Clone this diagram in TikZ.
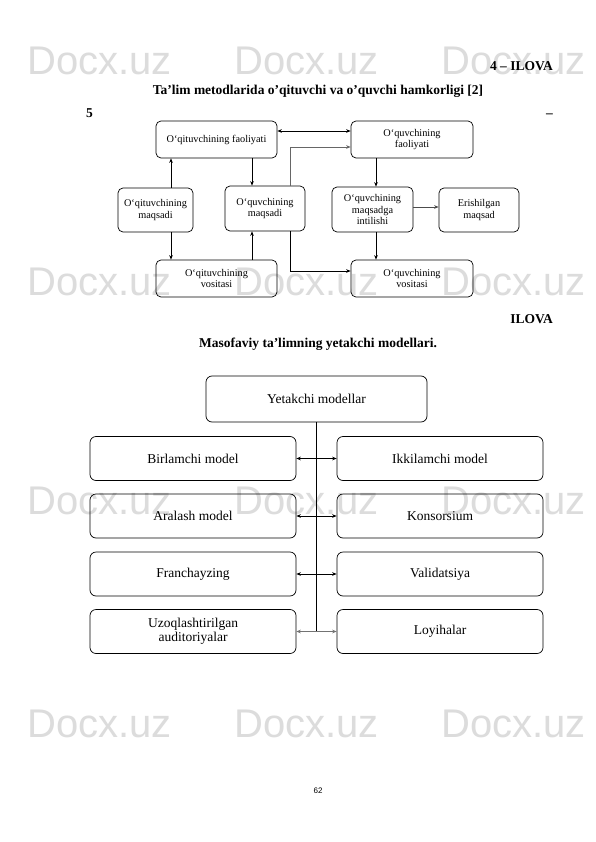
\documentclass[tikz,border=0pt]{standalone}
\usepackage{fontspec}
\setmainfont{Liberation Serif}
\newfontfamily\wmfont{Liberation Sans}
\usetikzlibrary{arrows.meta}
\definecolor{wmgray}{HTML}{DCDCDC}
\tikzset{
  tb/.style={draw, rounded corners=5pt, line width=0.7pt, align=center, inner sep=0pt,
    font=\fontsize{10.3}{11.8}\selectfont},
  bb/.style={draw, rounded corners=6pt, line width=0.7pt, align=center, inner sep=0pt,
    minimum width=206pt, minimum height=44pt, font=\fontsize{13.5}{14.5}\selectfont},
  arr/.style={-{Stealth[length=4.5pt,width=3.6pt]}, line width=0.7pt},
  darr/.style={{Stealth[length=4.5pt,width=3.6pt]}-{Stealth[length=4.5pt,width=3.6pt]}, line width=0.7pt},
  head/.style={inner sep=0pt, font=\fontsize{13.5}{15}\selectfont\bfseries},
  wm/.style={inner sep=0pt, anchor=base west, text=wmgray, font=\wmfont\fontsize{40}{44}\selectfont}
}
\begin{document}
\begin{tikzpicture}[x=1pt,y=-1pt]
\fill[white] (0,0) rectangle (595,842);
\useasboundingbox (0,0) rectangle (595,842);

% watermark
\foreach \yy in {75,295,514,737}{
  \foreach \xx in {27,234,441}{
    \node[wm] at (\xx,\yy) {Docx.uz};
  }
}

% headings
\node[head, anchor=base east] (h1) at (553,71) {4 – ILOVA};
\node[head, anchor=base] (h2) at (318,95) {Ta’lim metodlarida o’qituvchi va o’quvchi hamkorligi [2]};
\node[head, anchor=base west] (h3) at (86,118) {5};
\node[head, anchor=base east] (h4) at (553,118) {–};
\node[head, anchor=base east] (h5) at (553,323) {ILOVA};
\node[head, anchor=base] (h6) at (318,347) {Masofaviy ta’limning yetakchi modellari.};
\node[inner sep=0pt, font=\wmfont\fontsize{8}{9}\selectfont] (pg) at (318,791) {62};

% ---- top diagram ----
\node[tb, minimum width=121pt, minimum height=37pt] (A) at (216.5,139.5) {O‘qituvchining faoliyati};
\node[tb, minimum width=75pt, minimum height=44pt] (B) at (155.5,210) {O‘qituvchining\\maqsadi};
\node[tb, minimum width=80pt, minimum height=45pt] (C) at (265,208.5) {O‘quvchining\\maqsadi};
\node[tb, minimum width=121pt, minimum height=37pt] (D) at (216.5,278.5) {O‘qituvchining\\vositasi};
\node[tb, minimum width=122pt, minimum height=37pt] (E) at (412,139.5) {O‘quvchining\\faoliyati};
\node[tb, minimum width=81pt, minimum height=45pt] (F) at (372.5,209.5) {O‘quvchining\\maqsadga\\intilishi};
\node[tb, minimum width=80pt, minimum height=44pt] (G) at (479,210) {Erishilgan\\maqsad};
\node[tb, minimum width=122pt, minimum height=37pt] (H) at (412,278.5) {O‘quvchining\\vositasi};

\coordinate (cA) at (171,0);
\coordinate (cB) at (252,0);
\coordinate (cC) at (290,0);
\coordinate (cD) at (376,0);
\coordinate (r1) at (0,131);
\coordinate (r2) at (0,147);
\coordinate (r3) at (0,271);
\coordinate (r4) at (0,207);

\draw[arr] (B.north -| cA) -- (A.south -| cA);
\draw[arr] (B.south -| cA) -- (D.north -| cA);
\draw[arr] (A.south -| cB) -- (C.north -| cB);
\draw[arr] (D.north -| cB) -- (C.south -| cB);
\draw[darr] (A.east |- r1) -- (E.west |- r1);
\draw[arr, draw=black!60] (C.north -| cC) |- (E.west |- r2);
\draw[arr] (C.south -| cC) |- (H.west |- r3);
\draw[arr] (E.south -| cD) -- (F.north -| cD);
\draw[arr, draw=black!70] (F.east |- r4) -- (G.west |- r4);
\draw[arr] (F.south -| cD) -- (H.north -| cD);

% ---- bottom diagram ----
\node[bb, minimum width=221pt, minimum height=46pt] (Y) at (316.5,399) {Yetakchi modellar};
\node[bb] (L1) at (193,458.5) {Birlamchi model};
\node[bb] (L2) at (193,516) {Aralash model};
\node[bb] (L3) at (193,574) {Franchayzing};
\node[bb] (L4) at (193,631.5) {Uzoqlashtirilgan\\auditoriyalar};
\node[bb] (R1) at (440,458.5) {Ikkilamchi model};
\node[bb] (R2) at (440,516) {Konsorsium};
\node[bb] (R3) at (440,574) {Validatsiya};
\node[bb] (R4) at (440,631.5) {Loyihalar};

\coordinate (tend) at (316,631.5);
\draw[line width=0.7pt] (Y.south -| tend) -- (tend);
\draw[darr] (L1.east) -- (R1.west);
\draw[darr] (L2.east) -- (R2.west);
\draw[darr] (L3.east) -- (R3.west);
\draw[darr, draw=black!55] (L4.east) -- (R4.west);
\end{tikzpicture}
\end{document}
